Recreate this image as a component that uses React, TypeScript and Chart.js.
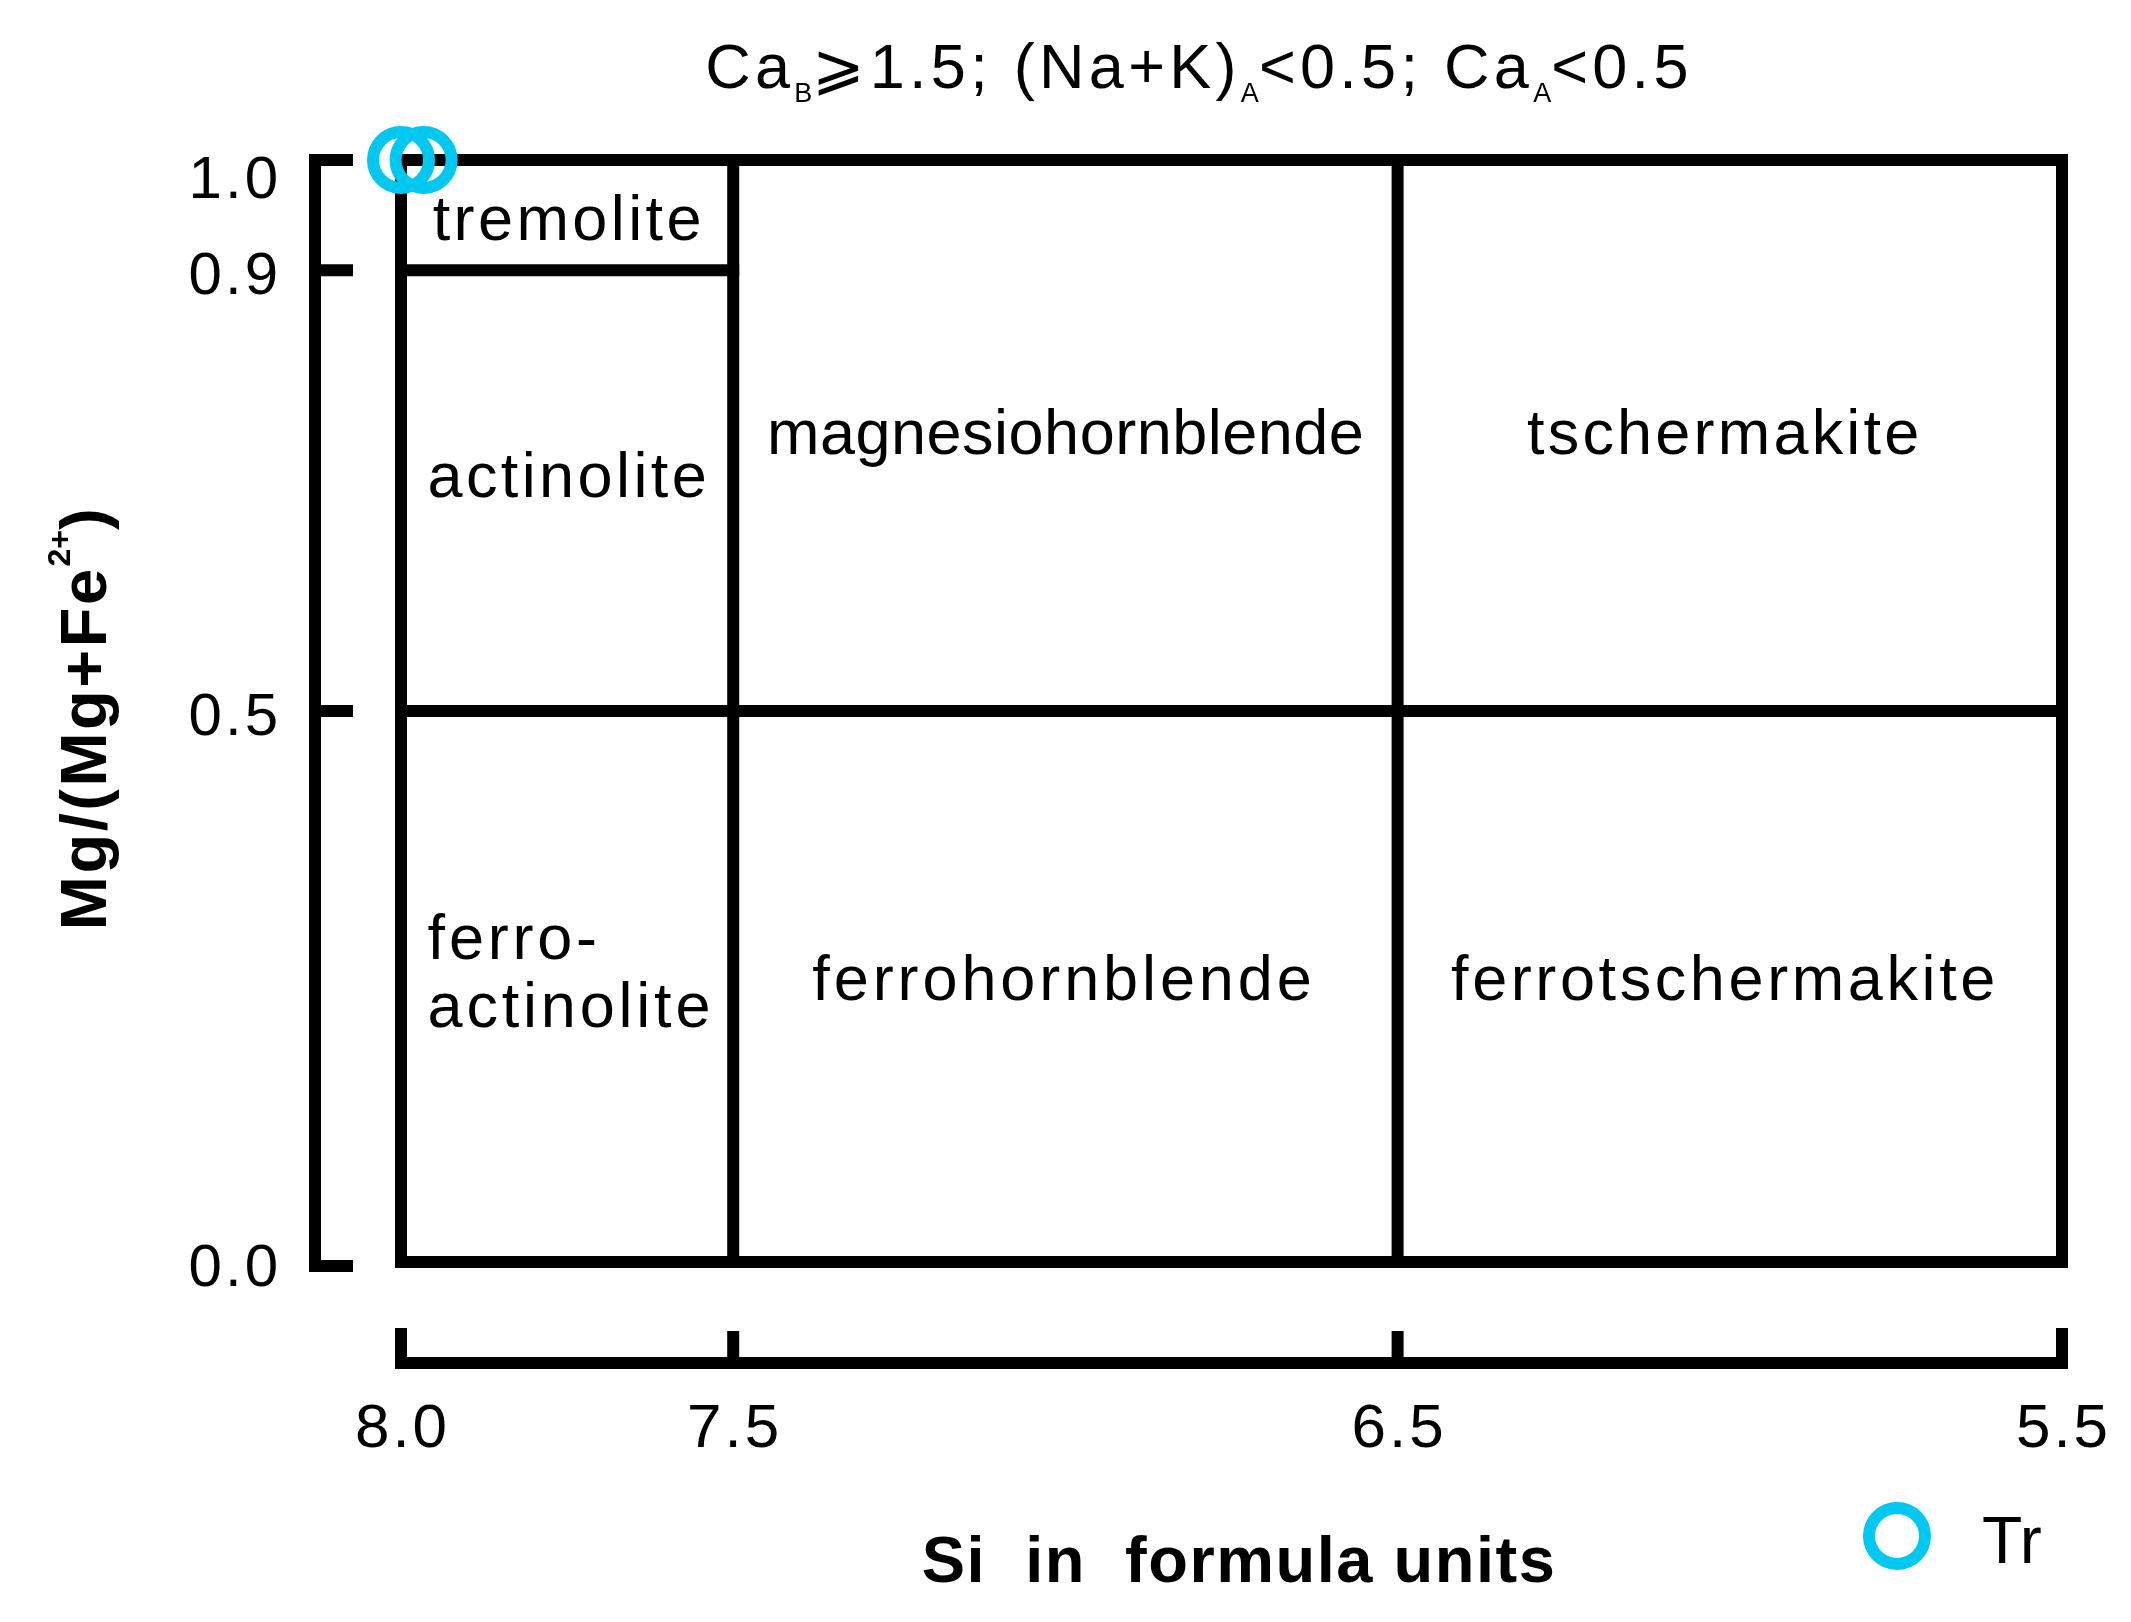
import React, { useEffect, useRef } from "react";
import { Chart, registerables } from "chart.js";

Chart.register(...registerables);

// ---------------- data ----------------
const sampleName = "Tr";
const trSi = [8.0, 7.966];
const trMg = [1.0, 1.0];

const xTickValues = [8.0, 7.5, 6.5, 5.5];
const xTickLabels = ["8.0", "7.5", "6.5", "5.5"];
const yTickValues = [0.0, 0.5, 0.9, 1.0];
const yTickLabels = ["0.0", "0.5", "0.9", "1.0"];

// field boundaries (Si apfu, Mg/(Mg+Fe2+))
const frameSi = [8.0, 5.5, 5.5, 8.0, 8.0];
const frameMg = [0.0, 0.0, 1.0, 1.0, 0.0];
const line75Si = [7.5, 7.5];
const line75Mg = [0.0, 1.0];
const line65Si = [6.5, 6.5];
const line65Mg = [0.0, 1.0];
const line09Si = [8.0, 7.5];
const line09Mg = [0.9, 0.9];
const line05Si = [8.0, 5.5];
const line05Mg = [0.5, 0.5];

// field names and their anchor in data units
const fieldNames = [
  "tremolite",
  "actinolite",
  "magnesiohornblende",
  "tschermakite",
  "ferro-\nactinolite",
  "ferrohornblende",
  "ferrotschermakite",
];
const fieldSi = [7.75, 7.75, 7.0, 6.01, 7.96, 7.005, 6.01];
const fieldMg = [0.927, 0.694, 0.733, 0.733, 0.275, 0.238, 0.238];

// ---------------- styles ----------------
const FONT = '"Liberation Sans", Arial, Helvetica, sans-serif';
const CYAN = "#00C8F0";
const LW = 12;
const fieldSpacing = [3.4, 3.4, 0.5, 3.2, 3.8, 3.9, 3.6];
const fieldAlign: CanvasTextAlign[] = ["center", "center", "center", "center", "left", "center", "center"];

type Seg = { t: string; size: number; bold?: boolean; dy?: number; sp?: number };

function setFont(ctx: CanvasRenderingContext2D, s: Seg) {
  ctx.font = `${s.bold ? "bold " : ""}${s.size}px ${FONT}`;
  (ctx as any).letterSpacing = `${s.sp ?? 0}px`;
}

function drawRich(ctx: CanvasRenderingContext2D, segs: Seg[], cx: number, by: number) {
  ctx.textAlign = "left";
  ctx.textBaseline = "alphabetic";
  let total = 0;
  const widths = segs.map((s) => {
    setFont(ctx, s);
    const w = ctx.measureText(s.t).width;
    total += w;
    return w;
  });
  let x = cx - total / 2;
  segs.forEach((s, i) => {
    setFont(ctx, s);
    ctx.fillText(s.t, x, by + (s.dy ?? 0));
    x += widths[i];
  });
}

const decorPlugin = {
  id: "decor",
  afterDraw(chart: any) {
    const { ctx, chartArea: ca, scales } = chart;
    const xs = scales.x;
    const ys = scales.y;
    ctx.save();
    ctx.fillStyle = "#000";
    ctx.strokeStyle = "#000";
    ctx.lineWidth = LW;
    ctx.lineCap = "butt";
    ctx.lineJoin = "miter";

    // ---- detached y axis (bracket) ----
    const spineX = ca.left - 86;
    const tickEndX = ca.left - 48;
    const yMin = Math.min(...yTickValues);
    const yMax = Math.max(...yTickValues);
    const pTop = ys.getPixelForValue(yMax);
    const pBot = ys.getPixelForValue(yMin) + 4;
    ctx.beginPath();
    ctx.moveTo(tickEndX, pTop);
    ctx.lineTo(spineX, pTop);
    ctx.lineTo(spineX, pBot);
    ctx.lineTo(tickEndX, pBot);
    ctx.stroke();
    yTickValues.forEach((v) => {
      if (v === yMin || v === yMax) return;
      const p = ys.getPixelForValue(v);
      ctx.beginPath();
      ctx.moveTo(spineX, p);
      ctx.lineTo(tickEndX, p);
      ctx.stroke();
    });
    // y tick labels
    ctx.font = `60px ${FONT}`;
    (ctx as any).letterSpacing = "3px";
    ctx.textAlign = "right";
    ctx.textBaseline = "alphabetic";
    yTickValues.forEach((v, i) => {
      const p = ys.getPixelForValue(v);
      const by = Math.max(p + 24, ca.top + 38);
      ctx.fillText(yTickLabels[i], ca.left - 120, by);
    });

    // ---- detached x axis (bracket) ----
    const lineY = ca.bottom + 101;
    const tickTopY = ca.bottom + 66;
    const x0 = xs.getPixelForValue(xTickValues[0]);
    const x1 = xs.getPixelForValue(xTickValues[xTickValues.length - 1]);
    ctx.beginPath();
    ctx.moveTo(x0, tickTopY);
    ctx.lineTo(x0, lineY);
    ctx.lineTo(x1, lineY);
    ctx.lineTo(x1, tickTopY);
    ctx.stroke();
    xTickValues.slice(1, -1).forEach((v) => {
      const p = xs.getPixelForValue(v);
      ctx.beginPath();
      ctx.moveTo(p, lineY);
      ctx.lineTo(p, tickTopY + 3);
      ctx.stroke();
    });
    ctx.font = `62px ${FONT}`;
    (ctx as any).letterSpacing = "3px";
    ctx.textAlign = "center";
    xTickValues.forEach((v, i) => {
      const p = xs.getPixelForValue(v);
      ctx.fillText(xTickLabels[i], p + 1.5, ca.bottom + 185);
    });

    // ---- field names ----
    fieldNames.forEach((name, i) => {
      ctx.font = `63px ${FONT}`;
      (ctx as any).letterSpacing = `${fieldSpacing[i]}px`;
      ctx.textAlign = fieldAlign[i];
      const px = xs.getPixelForValue(fieldSi[i]);
      const py = ys.getPixelForValue(fieldMg[i]);
      name.split("\n").forEach((ln, k) => {
        ctx.fillText(ln, px + (fieldAlign[i] === "center" ? fieldSpacing[i] / 2 : 0), py + k * 68);
      });
    });

    // ---- title ----
    const big = 63;
    const sub = 27;
    const sp = 4.3;
    drawRich(
      ctx,
      [
        { t: "Ca", size: big, sp },
        { t: "B", size: sub, dy: 14, sp: 0 },
        { t: "\u2A7E1.5; (Na+K)", size: big, sp },
        { t: "A", size: sub, dy: 14, sp: 0 },
        { t: "<0.5; Ca", size: big, sp },
        { t: "A", size: sub, dy: 14, sp: 0 },
        { t: "<0.5", size: big, sp },
      ],
      1199,
      88
    );

    // ---- y axis title (rotated) ----
    ctx.save();
    ctx.translate(106, 718);
    ctx.rotate(-Math.PI / 2);
    drawRich(
      ctx,
      [
        { t: "Mg/(Mg+Fe", size: 65, bold: true, sp: 2.5 },
        { t: "2+", size: 32, bold: true, dy: -36, sp: 0 },
        { t: ")", size: 65, bold: true, sp: 2.5 },
      ],
      0,
      0
    );
    ctx.restore();

    // ---- x axis title ----
    drawRich(ctx, [{ t: "Si  in  formula units", size: 65, bold: true, sp: 1.5 }], 1239, 1582);

    // ---- legend ----
    const ds = chart.data.datasets[0];
    ctx.beginPath();
    ctx.lineWidth = ds.borderWidth;
    ctx.strokeStyle = ds.borderColor;
    ctx.arc(1897, 1536, ds.pointRadius, 0, Math.PI * 2);
    ctx.stroke();
    ctx.font = `66px ${FONT}`;
    (ctx as any).letterSpacing = "0px";
    ctx.textAlign = "left";
    ctx.fillStyle = "#000";
    ctx.fillText(ds.label, 1982, 1563);

    ctx.restore();
  },
};

function pts(si: number[], mg: number[]) {
  return si.map((s, i) => ({ x: s, y: mg[i] }));
}

function boundary(si: number[], mg: number[]) {
  return {
    data: pts(si, mg),
    showLine: true,
    borderColor: "#000",
    borderWidth: LW,
    pointRadius: 0,
    pointHoverRadius: 0,
    borderCapStyle: "square" as const,
    borderJoinStyle: "miter" as const,
    fill: false,
    clip: false as any,
    tension: 0,
  };
}

export default function App() {
  const ref = useRef<HTMLCanvasElement>(null);

  useEffect(() => {
    const canvas = ref.current!;
    const chart = new Chart(canvas, {
      type: "scatter",
      data: {
        datasets: [
          {
            label: sampleName,
            data: pts(trSi, trMg),
            borderColor: CYAN,
            backgroundColor: "rgba(0,0,0,0)",
            borderWidth: LW,
            pointRadius: 28,
            pointHoverRadius: 28,
            pointBorderWidth: LW,
            pointStyle: "circle",
            clip: false as any,
          } as any,
          boundary(frameSi, frameMg),
          boundary(line75Si, line75Mg),
          boundary(line65Si, line65Mg),
          boundary(line09Si, line09Mg),
          boundary(line05Si, line05Mg),
        ],
      },
      options: {
        animation: false,
        responsive: false,
        devicePixelRatio: 1,
        events: [],
        layout: { padding: { left: 401, right: 69, top: 160, bottom: 360 } },
        plugins: {
          legend: { display: false },
          tooltip: { enabled: false },
        },
        scales: {
          x: { type: "linear", min: 5.5, max: 8.0, reverse: true, display: false },
          y: { type: "linear", min: 0, max: 1, display: false },
        },
      },
      plugins: [decorPlugin],
    });
    return () => chart.destroy();
  }, []);

  return (
    <div style={{ position: "absolute", left: 0, top: 0, width: 2131, height: 1622, background: "#fff" }}>
      <canvas ref={ref} width={2131} height={1622} style={{ display: "block", width: 2131, height: 1622 }} />
    </div>
  );
}
